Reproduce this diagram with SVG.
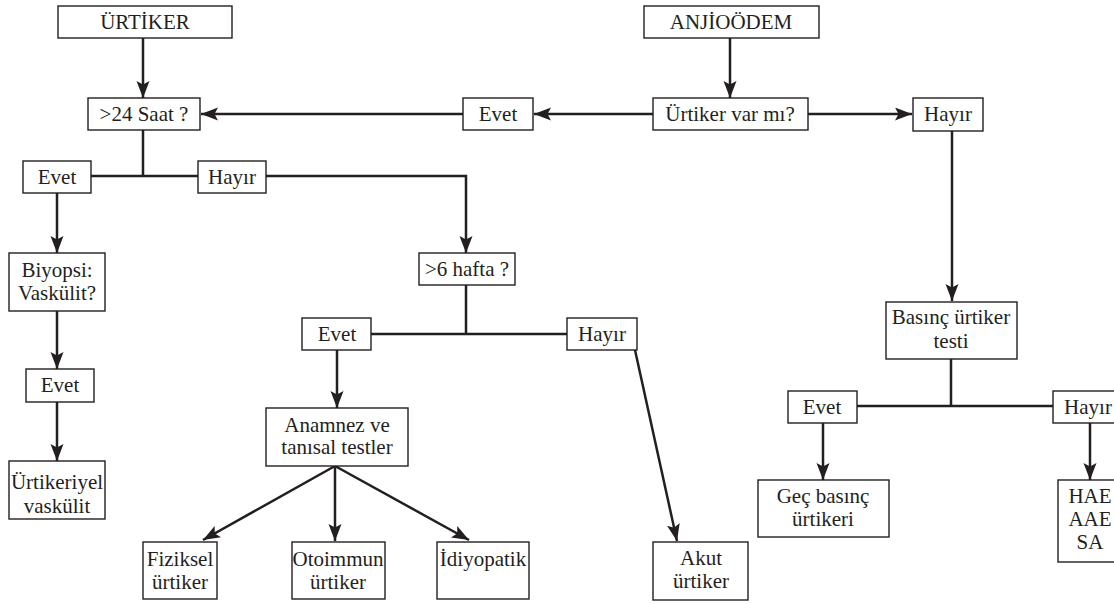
<svg xmlns="http://www.w3.org/2000/svg" width="1114" height="604" viewBox="0 0 1114 604">
<defs>
<style>
.box{fill:#fff;stroke:#231f20;stroke-width:1.4}
text{font-family:"Liberation Serif",serif;font-size:21px;fill:#231f20;text-anchor:middle}
.c{fill:none;stroke:#231f20;stroke-width:2.5}
.a{marker-end:url(#ah)}
</style>
<marker id="ah" markerUnits="userSpaceOnUse" markerWidth="18" markerHeight="14" refX="17" refY="6.5" orient="auto">
<path d="M0,0 L17,6.5 L0,13 L3.5,6.5 z" fill="#231f20"/>
</marker>
</defs>
<rect width="1114" height="604" fill="#fff"/>
<g id="connectors">
<line class="c a" x1="143" y1="38" x2="143" y2="98"/>
<line class="c a" x1="730" y1="38" x2="730" y2="98"/>
<line class="c a" x1="653" y1="114" x2="534" y2="114"/>
<line class="c a" x1="463" y1="114" x2="201" y2="114"/>
<line class="c a" x1="808" y1="114" x2="912" y2="114"/>
<line class="c a" x1="952" y1="131" x2="952" y2="301"/>
<line class="c" x1="143" y1="130" x2="143" y2="176"/>
<line class="c" x1="91" y1="176" x2="198" y2="176"/>
<polyline class="c a" points="266,176 466,176 466,253"/>
<line class="c a" x1="57" y1="193" x2="57" y2="253"/>
<line class="c a" x1="57" y1="311" x2="57" y2="369"/>
<line class="c a" x1="57" y1="402" x2="57" y2="461"/>
<line class="c" x1="466" y1="285" x2="466" y2="334"/>
<line class="c" x1="371" y1="334" x2="567" y2="334"/>
<line class="c a" x1="337" y1="350" x2="337" y2="408"/>
<line class="c a" x1="335" y1="466" x2="203" y2="540"/>
<line class="c a" x1="335" y1="466" x2="335" y2="541"/>
<line class="c a" x1="335" y1="466" x2="469" y2="540"/>
<line class="c a" x1="635" y1="350" x2="677" y2="541"/>
<line class="c" x1="951" y1="359" x2="951" y2="406"/>
<line class="c" x1="857" y1="406" x2="1053" y2="406"/>
<line class="c a" x1="823" y1="423" x2="823" y2="480"/>
<line class="c a" x1="1090" y1="423" x2="1090" y2="480"/>
</g>
<g font-family="Liberation Serif, serif" font-size="21" text-anchor="middle" fill="#231f20">
<g id="urtiker"><rect class="box" x="58" y="6" width="174" height="32"/><text x="145" y="29">ÜRTİKER</text></g>
<g id="anjioodem"><rect class="box" x="644" y="6" width="175" height="32"/><text x="731" y="29">ANJİOÖDEM</text></g>
<g id="saat24"><rect class="box" x="88" y="98" width="112" height="32"/><text x="144" y="121">&gt;24 Saat ?</text></g>
<g id="evet_top"><rect class="box" x="463" y="98" width="70" height="32"/><text x="498" y="121">Evet</text></g>
<g id="urtiker_var"><rect class="box" x="653" y="98" width="155" height="32"/><text x="730" y="121">Ürtiker var mı?</text></g>
<g id="hayir_top"><rect class="box" x="913" y="98" width="70" height="33"/><text x="948" y="121">Hayır</text></g>
<g id="evet_24"><rect class="box" x="23" y="161" width="68" height="32"/><text x="57" y="184">Evet</text></g>
<g id="hayir_24"><rect class="box" x="198" y="161" width="68" height="32"/><text x="232" y="184">Hayır</text></g>
<g id="biyopsi"><rect class="box" x="9" y="253" width="96" height="58"/><text x="57" y="277">Biyopsi:</text><text x="57" y="300">Vaskülit?</text></g>
<g id="evet_biyopsi"><rect class="box" x="26" y="369" width="68" height="33"/><text x="60" y="392">Evet</text></g>
<g id="urtikeriyel"><rect class="box" x="9" y="461" width="96" height="58"/><text x="57" y="489">Ürtikeriyel</text><text x="57" y="513">vaskülit</text></g>
<g id="hafta6"><rect class="box" x="419" y="253" width="96" height="32"/><text x="467" y="276">&gt;6 hafta ?</text></g>
<g id="evet_6"><rect class="box" x="302" y="318" width="69" height="32"/><text x="337" y="341">Evet</text></g>
<g id="hayir_6"><rect class="box" x="567" y="318" width="70" height="32"/><text x="602" y="341">Hayır</text></g>
<g id="anamnez"><rect class="box" x="266" y="408" width="142" height="58"/><text x="337" y="432">Anamnez ve</text><text x="337" y="454">tanısal testler</text></g>
<g id="fiziksel"><rect class="box" x="143" y="542" width="74" height="57"/><text x="180" y="566">Fiziksel</text><text x="180" y="589">ürtiker</text></g>
<g id="otoimmun"><rect class="box" x="292" y="542" width="93" height="57"/><text x="338" y="566">Otoimmun</text><text x="338" y="589">ürtiker</text></g>
<g id="idiyopatik"><rect class="box" x="437" y="542" width="92" height="57"/><text x="483" y="566">İdiyopatik</text></g>
<g id="akut"><rect class="box" x="653" y="542" width="95" height="58"/><text x="701" y="565">Akut</text><text x="701" y="588">ürtiker</text></g>
<g id="basinc"><rect class="box" x="886" y="302" width="131" height="57"/><text x="951" y="324">Basınç ürtiker</text><text x="951" y="348">testi</text></g>
<g id="evet_basinc"><rect class="box" x="788" y="391" width="69" height="32"/><text x="822" y="414">Evet</text></g>
<g id="hayir_basinc"><rect class="box" x="1053" y="391" width="70" height="32"/><text x="1088" y="414">Hayır</text></g>
<g id="gec"><rect class="box" x="758" y="480" width="131" height="57"/><text x="823" y="503">Geç basınç</text><text x="823" y="526">ürtikeri</text></g>
<g id="hae"><rect class="box" x="1058" y="480" width="64" height="82"/><text x="1090" y="503">HAE</text><text x="1090" y="526">AAE</text><text x="1090" y="549">SA</text></g>
</g>
</svg>
